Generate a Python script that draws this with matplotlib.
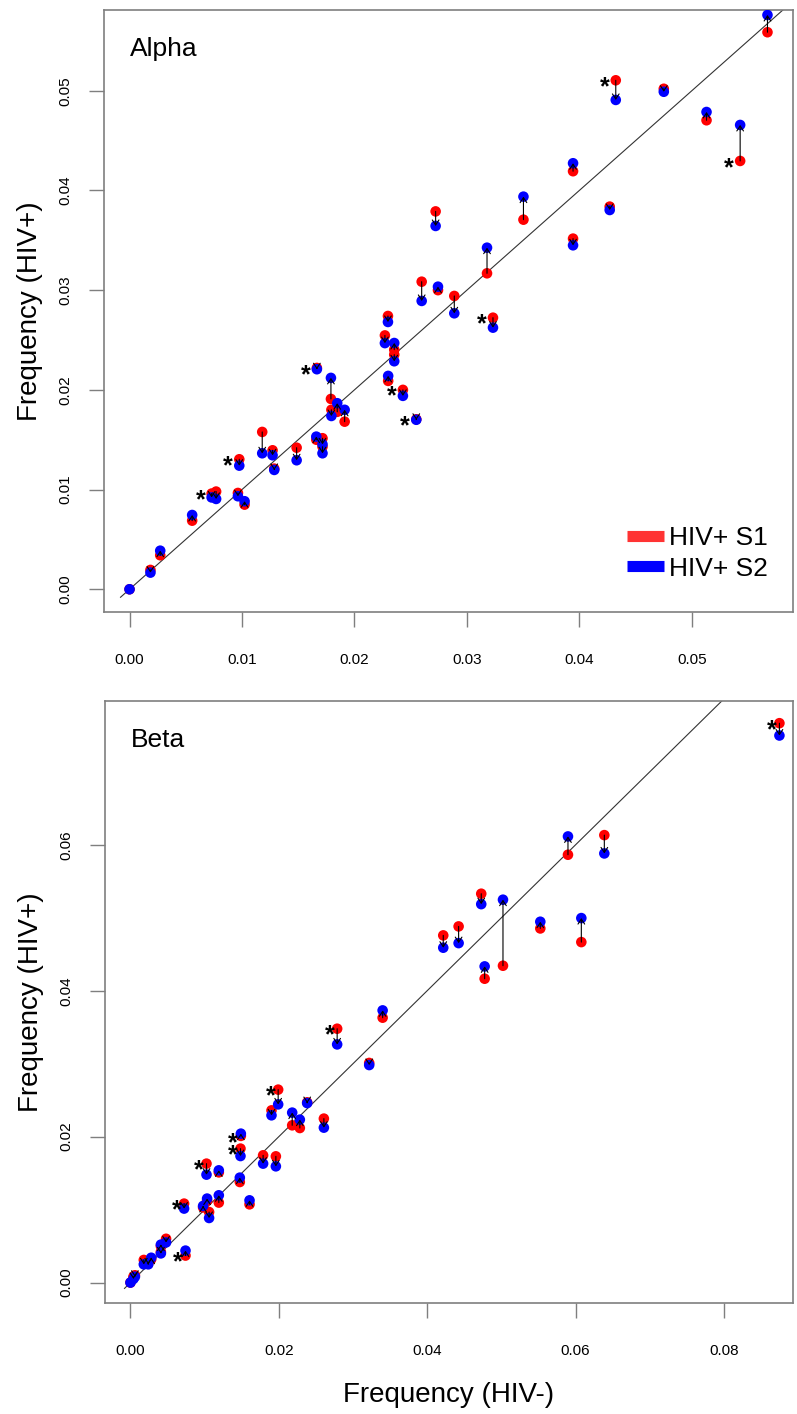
import matplotlib
matplotlib.use("Agg")
import matplotlib.pyplot as plt
from matplotlib.lines import Line2D

plt.rcParams['font.family'] = ['Liberation Sans', 'DejaVu Sans']

# ---------------- Alpha chain ----------------
alpha_neg = [0.0, 0.00186, 0.00273, 0.00557, 0.0073, 0.0077, 0.00964, 0.01023,
             0.00976, 0.0118, 0.01272, 0.01287, 0.01486, 0.01661, 0.01716, 0.01716,
             0.01666, 0.01791, 0.01795, 0.01847, 0.01913, 0.02298, 0.02271, 0.02354,
             0.02354, 0.0230, 0.02431, 0.0255, 0.02598, 0.02722, 0.02743, 0.02888,
             0.03179, 0.03232, 0.03503, 0.03944, 0.03944, 0.04270, 0.04324, 0.04751,
             0.05131, 0.05430, 0.05673]
alpha_s1 = [0.0, 0.00194, 0.00341, 0.00688, 0.0096, 0.0098, 0.00966, 0.00849,
            0.01304, 0.01578, 0.01394, 0.0121, 0.0142, 0.0150, 0.01515, 0.0143,
            0.0222, 0.01909, 0.0180, 0.0178, 0.01681, 0.02741, 0.02546, 0.02403,
            0.02353, 0.0209, 0.0200, 0.01705, 0.03085, 0.0379, 0.0300, 0.02942,
            0.03169, 0.02724, 0.03707, 0.04193, 0.03517, 0.03838, 0.05105, 0.0502,
            0.04704, 0.04296, 0.05587]
alpha_s2 = [0.0, 0.00167, 0.00387, 0.00745, 0.00921, 0.00906, 0.00933, 0.00883,
            0.0124, 0.01364, 0.01344, 0.01197, 0.01294, 0.01531, 0.01454, 0.01364,
            0.02207, 0.0212, 0.01738, 0.01866, 0.0180, 0.02681, 0.02469, 0.0247,
            0.02287, 0.0214, 0.0194, 0.0170, 0.02892, 0.03644, 0.03035, 0.02768,
            0.03426, 0.02624, 0.03938, 0.04273, 0.0345, 0.03804, 0.04908, 0.0499,
            0.04787, 0.04657, 0.0576]
alpha_sig = [False, False, False, False, True, False, False, False,
             True, False, False, False, False, False, False, False,
             True, False, False, False, False, False, False, False,
             False, False, True, True, False, False, False, False,
             False, True, False, False, False, False, True, False,
             False, True, False]

# ---------------- Beta chain ----------------
beta_neg = [0.0, 0.0004, 0.0006, 0.0018, 0.0024, 0.0028, 0.0041, 0.0041, 0.0048,
            0.00742, 0.00723, 0.00979, 0.01033, 0.0106, 0.01191, 0.01191, 0.01025,
            0.01474, 0.01605, 0.01483, 0.01488, 0.01788, 0.0196, 0.01901, 0.01991,
            0.02180, 0.02283, 0.02382, 0.02607, 0.02786, 0.03218, 0.03399, 0.04216,
            0.04423, 0.04728, 0.04774, 0.05021, 0.05524, 0.05897, 0.06077, 0.06387,
            0.08747]
beta_s1 = [0.0, 0.0008, 0.0010, 0.0031, 0.0026, 0.0032, 0.0042, 0.0050, 0.0060,
           0.0037, 0.01082, 0.0103, 0.0112, 0.00967, 0.01096, 0.0151, 0.0163,
           0.01378, 0.01072, 0.01836, 0.0201, 0.01744, 0.0173, 0.0236, 0.02644,
           0.02155, 0.02118, 0.0247, 0.02247, 0.03479, 0.0301, 0.0363, 0.04758,
           0.04881, 0.05329, 0.04164, 0.04342, 0.04853, 0.05863, 0.04666, 0.06132,
           0.07666]
beta_s2 = [0.0, 0.0005, 0.0008, 0.0025, 0.0025, 0.0034, 0.0040, 0.0052, 0.0055,
           0.00438, 0.01014, 0.0105, 0.01151, 0.00885, 0.01196, 0.01538, 0.01479,
           0.01438, 0.01127, 0.01734, 0.02041, 0.0163, 0.01593, 0.02292, 0.02442,
           0.02329, 0.02233, 0.0246, 0.02123, 0.03264, 0.02981, 0.0373, 0.04589,
           0.04652, 0.05186, 0.04333, 0.05247, 0.04945, 0.06114, 0.04995, 0.05881,
           0.07497]
beta_sig = [False, False, False, False, False, False, False, False, False,
            True, True, False, False, False, False, False, True,
            False, False, True, True, False, False, False, True,
            False, False, False, False, True, False, False, False,
            False, False, False, False, False, False, False, False,
            True]

series_labels = ["HIV+ S1", "HIV+ S2"]
alpha_xticks = [0.00, 0.01, 0.02, 0.03, 0.04, 0.05]
alpha_yticks = [0.00, 0.01, 0.02, 0.03, 0.04, 0.05]
beta_xticks = [0.00, 0.02, 0.04, 0.06, 0.08]
beta_yticks = [0.00, 0.02, 0.04, 0.06]

RED = "#FF0000"
BLUE = "#0000FF"
FRAME = "#7f7f7f"

W, H = 797, 1414
fig = plt.figure(figsize=(W / 100, H / 100), dpi=100)


def px_axes(left, top, right, bottom):
    return fig.add_axes([left / W, 1 - bottom / H, (right - left) / W, (bottom - top) / H])


def panel(ax, xneg, s1, s2, sig, title, xlim, ylim, xticks, yticks, star_dx):
    ax.set_xlim(*xlim)
    ax.set_ylim(*ylim)
    # identity line, starting at the origin and clipped by the frame
    ax.plot([-0.0008, 1.0], [-0.0008, 1.0], color="#333333", lw=0.8, zorder=1)
    ax.scatter(xneg, s1, s=58, color=RED, edgecolors="none", zorder=2)
    ax.scatter(xneg, s2, s=58, color=BLUE, edgecolors="none", zorder=3)
    for x, a, b, star in zip(xneg, s1, s2, sig):
        if abs(b - a) > 1e-6:
            ax.annotate("", xy=(x, b), xytext=(x, a),
                        arrowprops=dict(arrowstyle="->,head_length=0.45,head_width=0.3",
                                        color="black", lw=0.8, shrinkA=0, shrinkB=0,
                                        mutation_scale=8),
                        zorder=4)
        if star:
            ax.annotate("*", xy=(x, a), xytext=(star_dx, -5), textcoords="offset points",
                        ha="right", va="center", fontsize=18, fontweight="bold",
                        color="black", zorder=5)
    ax.text(0.038, 0.935, title, transform=ax.transAxes, fontsize=19,
            ha="left", va="center")
    ax.set_xticks(xticks)
    ax.set_xticklabels([f"{t:.2f}" for t in xticks])
    ax.set_yticks(yticks)
    ax.set_yticklabels([f"{t:.2f}" for t in yticks], rotation=90, va="center")
    for sp in ax.spines.values():
        sp.set_color(FRAME)
        sp.set_linewidth(1.2)
    ax.tick_params(direction="out", length=10.5, width=1.0, color=FRAME, labelsize=11)
    ax.tick_params(axis="x", pad=19)
    ax.tick_params(axis="y", pad=12)
    ax.set_ylabel("Frequency (HIV+)", fontsize=20, labelpad=11)


ax1 = px_axes(104, 10, 793, 612)
panel(ax1, alpha_neg, alpha_s1, alpha_s2, alpha_sig, "Alpha",
      (-0.00227, 0.0590), (-0.00228, 0.0581), alpha_xticks, alpha_yticks, -4.5)
handles = [Line2D([], [], color="#FF3333", lw=8, solid_capstyle="butt"),
           Line2D([], [], color=BLUE, lw=8, solid_capstyle="butt")]
ax1.legend(handles, series_labels, loc="lower right", bbox_to_anchor=(0.964, 0.052),
           frameon=False, fontsize=19, handlelength=1.4, handletextpad=0.2,
           labelspacing=0.25, borderpad=0, borderaxespad=0)

ax2 = px_axes(105, 701, 793, 1303)
panel(ax2, beta_neg, beta_s1, beta_s2, beta_sig, "Beta",
      (-0.00343, 0.0893), (-0.0028, 0.0797), beta_xticks, beta_yticks, -2.0)
ax2.set_xlabel("Frequency (HIV-)", fontsize=20, labelpad=17)

fig.savefig("out.png", dpi=100)
